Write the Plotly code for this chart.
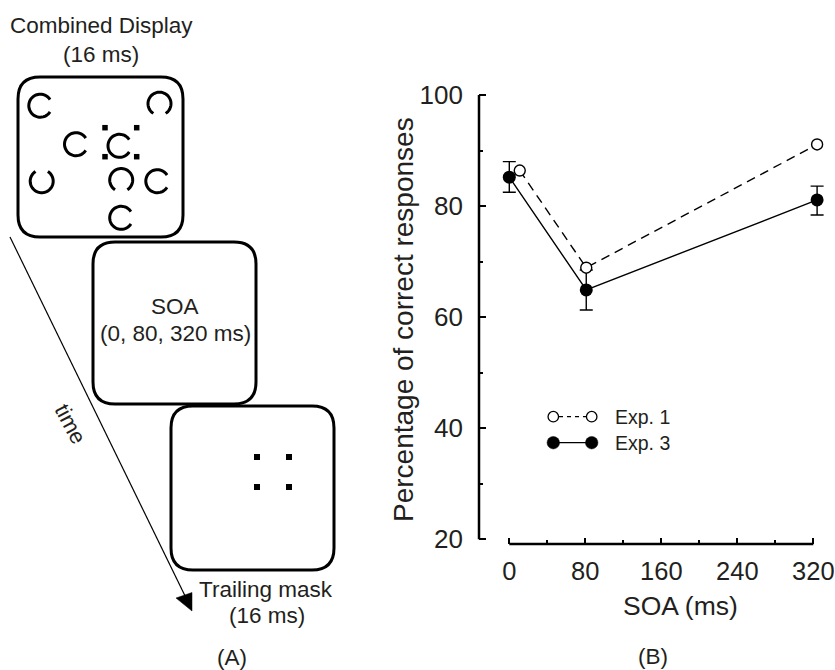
import numpy as np
import plotly.graph_objects as go

# ---------------- data ----------------
soa_ticks = [0, 80, 160, 240, 320]
soa_minor = [40, 120, 200, 280]
pct_ticks = [20, 40, 60, 80, 100]
pct_minor = [30, 50, 70, 90]

exp1_x = [11, 81, 324]
exp1_y = [86.4, 68.9, 91.1]
exp3_x = [0, 81, 324]
exp3_y = [85.2, 64.9, 81.1]
exp3_err_plus = [2.8, 3.6, 2.5]
exp3_err_minus = [2.7, 3.6, 2.7]
series_names = ["Exp. 1", "Exp. 3"]

# ---------------- layout constants ----------------
W, H = 835, 670
FONT = "Liberation Sans, Arial, sans-serif"
TXT = "#231f20"

# main axes geometry, in pixels
x0_px, x320_px = 509.3, 813.3
y100_px, y20_px = 95.0, 539.3
plot_l, plot_r, plot_t, plot_b = 479.0, 824.0, 90.0, 544.0
xs = (x320_px - x0_px) / 320.0
ys = (y20_px - y100_px) / 80.0
xr = [(plot_l - x0_px) / xs, (plot_r - x0_px) / xs]
yr = [20 - (plot_b - y20_px) / ys, 100 + (y100_px - plot_t) / ys]

fig = go.Figure()

fig.add_trace(go.Scatter(
    x=exp3_x, y=exp3_y, name=series_names[1], mode="lines+markers",
    line=dict(color="black", width=1.4),
    marker=dict(color="black", size=13, line=dict(width=0)),
    error_y=dict(type="data", symmetric=False, array=exp3_err_plus,
                 arrayminus=exp3_err_minus, color="black", thickness=1.4, width=6.5),
    cliponaxis=False, showlegend=False))

fig.add_trace(go.Scatter(
    x=exp1_x, y=exp1_y, name=series_names[0], mode="lines+markers",
    line=dict(color="black", width=1.4, dash="9px,6px"),
    marker=dict(color="white", size=11, line=dict(color="black", width=1.4)),
    cliponaxis=False, showlegend=False))

# invisible trace on the pixel overlay axes
fig.add_trace(go.Scatter(x=[0], y=[0], xaxis="x2", yaxis="y2", mode="markers",
                         marker=dict(opacity=0), hoverinfo="skip", showlegend=False))

shapes = []
annotations = []

def line(x0, y0, x1, y1, w=3, dash=None):
    d = dict(type="line", xref="x2", yref="y2", x0=x0, y0=y0, x1=x1, y1=y1,
             line=dict(color="black", width=w))
    if dash:
        d["line"]["dash"] = dash
    shapes.append(d)

def rbox(x0, y0, x1, y1, r=22, w=3):
    path = (f"M {x0+r},{y0} L {x1-r},{y0} Q {x1},{y0} {x1},{y0+r} "
            f"L {x1},{y1-r} Q {x1},{y1} {x1-r},{y1} L {x0+r},{y1} "
            f"Q {x0},{y1} {x0},{y1-r} L {x0},{y0+r} Q {x0},{y0} {x0+r},{y0} Z")
    shapes.append(dict(type="path", xref="x2", yref="y2", path=path,
                       line=dict(color="black", width=w)))

def ring(cx, cy, gap_dir, r=11.5, gap=65, w=3):
    # gap_dir in screen degrees: 0 right, 90 down, 180 left, 270 up
    a0 = np.radians(gap_dir + gap / 2)
    a1 = np.radians(gap_dir + 360 - gap / 2)
    t = np.linspace(a0, a1, 48)
    pts = [f"{cx + r*np.cos(a):.2f},{cy + r*np.sin(a):.2f}" for a in t]
    path = "M " + " L ".join(pts)
    shapes.append(dict(type="path", xref="x2", yref="y2", path=path,
                       line=dict(color="black", width=w)))

def sq(cx, cy, s=5.5):
    shapes.append(dict(type="rect", xref="x2", yref="y2", x0=cx - s/2, x1=cx + s/2,
                       y0=cy - s/2, y1=cy + s/2, fillcolor="black",
                       line=dict(width=0)))

def circ(cx, cy, d, fill, w=1.3):
    shapes.append(dict(type="circle", xref="x2", yref="y2", x0=cx - d/2, x1=cx + d/2,
                       y0=cy - d/2, y1=cy + d/2, fillcolor=fill,
                       line=dict(color="black", width=w)))

def text(x, y, s, size=22, angle=0, xanchor="center"):
    annotations.append(dict(xref="x2", yref="y2", x=x, y=y, text=s, showarrow=False,
                            xanchor=xanchor, yanchor="middle", textangle=angle,
                            font=dict(family=FONT, size=size, color=TXT)))

# ---- panel A ----
rbox(18, 77, 183, 237)
rbox(93, 242, 256, 404)
rbox(171, 406, 334, 570)

ring(40.3, 105.7, 0)
ring(159.5, 103.7, 90)
ring(76, 144.2, 0)
ring(119.5, 145.8, 0)
ring(41.7, 181.2, 270)
ring(121.2, 180, 90)
ring(157.3, 181.2, 0)
ring(121.2, 217.8, 0)
for (dx, dy) in [(105, 127.7), (136.7, 127.7), (105, 156.7), (136.7, 156.7)]:
    sq(dx, dy)
for (dx, dy) in [(257, 457), (289, 457), (257, 487), (289, 487)]:
    sq(dx, dy, 6)

# time arrow
line(10, 237, 189, 604, w=1.2)
shapes.append(dict(type="path", xref="x2", yref="y2",
                   path="M 176,598 L 192,592.5 L 192,611 Z",
                   fillcolor="black", line=dict(color="black", width=0.5)))

text(101, 25, "Combined Display", size=22.5)
text(100.5, 54, "(16 ms)", size=22.5)
text(175, 306.5, "SOA", size=22.5)
text(175.5, 333, "(0, 80, 320 ms)", size=22.5)
text(266, 589, "Trailing mask", size=22.5)
text(267, 615, "(16 ms)", size=22.5)
text(71, 424, "time", size=22, angle=62)
text(232, 657, "(A)", size=22.5)

# ---- panel B decorations ----
text(653, 656, "(B)", size=22.5)
text(680, 606, "SOA (ms)", size=26.5)
text(403, 320, "Percentage of correct responses", size=28, angle=-90)

# legend
line(559, 416.7, 586, 416.7, w=1.2, dash="4px,4px")
circ(553.3, 416.7, 10.5, "white")
circ(591.7, 416.7, 10.5, "white")
line(553, 442.7, 592, 442.7, w=1.3)
circ(553.3, 442.7, 12.5, "black", w=0.5)
circ(591.7, 442.7, 12.5, "black", w=0.5)
text(613, 416.7, series_names[0], size=19.5, xanchor="left")
text(613, 442.7, series_names[1], size=19.5, xanchor="left")

# axis lines (offset axes)
shapes.append(dict(type="line", xref="x", yref="y domain", x0=0, x1=320, y0=0, y1=0,
                   line=dict(color="black", width=2.5), layer="above"))
shapes.append(dict(type="line", xref="x domain", yref="y", x0=0, x1=0, y0=20, y1=100,
                   line=dict(color="black", width=2.5), layer="above"))

fig.update_layout(
    width=W, height=H,
    margin=dict(l=0, r=0, t=0, b=0, pad=0, autoexpand=False),
    paper_bgcolor="white", plot_bgcolor="rgba(0,0,0,0)",
    font=dict(family=FONT, color=TXT),
    shapes=shapes, annotations=annotations,
    xaxis=dict(domain=[plot_l / W, plot_r / W], range=xr,
               showgrid=False, zeroline=False,
               showline=False, tickmode="array", tickvals=soa_ticks, automargin=False,
               ticktext=[str(v) for v in soa_ticks], ticks="inside", ticklen=6,
               tickwidth=2, tickcolor="black", ticklabelstandoff=9,
               tickfont=dict(family=FONT, size=25.5, color=TXT),
               minor=dict(tickmode="array", tickvals=soa_minor, ticks="inside",
                          ticklen=4, tickwidth=1.5, tickcolor="black", showgrid=False),
               fixedrange=True),
    yaxis=dict(domain=[(H - plot_b) / H, (H - plot_t) / H], range=yr, showgrid=False,
               zeroline=False, showline=False, tickmode="array", tickvals=pct_ticks,
               automargin=False,
               ticktext=[str(v) for v in pct_ticks], ticks="inside", ticklen=7,
               tickwidth=2, tickcolor="black", ticklabelstandoff=15,
               tickfont=dict(family=FONT, size=26, color=TXT),
               minor=dict(tickmode="array", tickvals=pct_minor, ticks="inside",
                          ticklen=4, tickwidth=1.5, tickcolor="black", showgrid=False),
               fixedrange=True),
    xaxis2=dict(domain=[0, 1], range=[0, W], visible=False, anchor="y2",
                fixedrange=True, automargin=False),
    yaxis2=dict(domain=[0, 1], range=[H, 0], visible=False, anchor="x2",
                fixedrange=True, automargin=False),
    showlegend=False,
)

fig.write_html(
    "out.html",
    config={"displayModeBar": False},
    post_script="document.body.style.margin='0';document.body.style.overflow='hidden';",
)
